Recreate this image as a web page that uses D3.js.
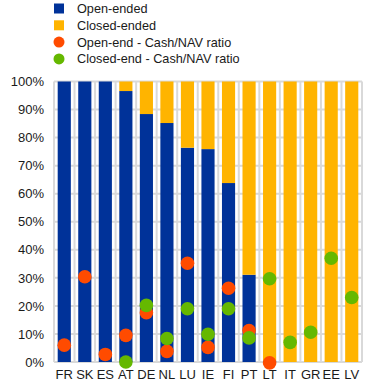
<!DOCTYPE html>
<html><head><meta charset="utf-8">
<script src="https://cdn.jsdelivr.net/npm/d3@7"></script>
<style>body{margin:0;background:#fff}svg{display:block;font-family:"Liberation Sans",Arial,sans-serif}</style>
</head><body><svg id="c" width="372" height="389"></svg>
<script>
const countries = ["FR","SK","ES","AT","DE","NL","LU","IE","FI","PT","LT","IT","GR","EE","LV"];
const openEnded = [100,100,100,96.6,88.4,85.2,76.4,75.9,63.8,31.1,0.5,0,0,0,0];
const closedEnded = openEnded.map(v => 100 - v);
const openCash = [6.0,30.4,2.7,9.5,17.6,3.8,35.2,5.2,26.3,11.2,-0.3,null,null,null,null];
const closedCash = [null,null,null,0.0,20.2,8.4,19.0,9.9,19.0,8.6,29.7,7.0,10.6,37.0,23.0];
const yTicks = [0,10,20,30,40,50,60,70,80,90,100];
const legendLabels = ["Open-ended","Closed-ended","Open-end - Cash/NAV ratio","Closed-end - Cash/NAV ratio"];

const colors = {open:"#003299", closed:"#FFB400", oc:"#FF4B00", cc:"#65B800"};
const svg = d3.select("#c");
const m = {l:54};
const x = d3.scaleBand().domain(countries).range([m.l, 362]).paddingInner(0.36).paddingOuter(0.18);
const xb = d3.scaleBand().domain(countries).range([m.l, 362]);
const y = d3.scaleLinear().domain([0,100]).range([362, 81.5]);

// grid
const g = svg.append("g");
g.selectAll("line.h").data(yTicks).join("line")
  .attr("x1", m.l).attr("x2", 362).attr("y1", d=>y(d)).attr("y2", d=>y(d))
  .attr("stroke","#d9d9d9").attr("stroke-width",2);
const vb = countries.map(c=>xb(c)).concat([362]);
g.selectAll("line.v").data(vb).join("line")
  .attr("x1", d=>d).attr("x2", d=>d).attr("y1", y(0)).attr("y2", y(100))
  .attr("stroke","#d9d9d9").attr("stroke-width",2);

// bars
svg.append("g").selectAll("rect").data(countries).join("rect")
  .attr("x", c=>x(c)).attr("width", x.bandwidth())
  .attr("y", (c,i)=>y(openEnded[i])).attr("height",(c,i)=>y(0)-y(openEnded[i]))
  .attr("fill", colors.open);
svg.append("g").selectAll("rect").data(countries).join("rect")
  .attr("x", c=>x(c)).attr("width", x.bandwidth())
  .attr("y", (c,i)=>y(100)).attr("height",(c,i)=>y(openEnded[i])-y(100))
  .attr("fill", colors.closed);

// axes
const yAxis = d3.axisLeft(y).tickValues(yTicks).tickFormat(d=>d+"%").tickSize(0).tickPadding(10);
const ya = svg.append("g").attr("transform",`translate(${m.l},0)`).call(yAxis);
ya.select(".domain").remove();
ya.selectAll("text").attr("font-size",13).attr("fill","#1a1a1a").attr("font-family","Liberation Sans, Arial, sans-serif");
const xAxis = d3.axisBottom(x).tickSize(0).tickPadding(8);
const xa = svg.append("g").attr("transform",`translate(0,${y(0)})`).call(xAxis);
xa.select(".domain").remove();
xa.selectAll("text").attr("font-size",13).attr("fill","#1a1a1a").attr("font-family","Liberation Sans, Arial, sans-serif");

// dots
const cx = c => x(c) + x.bandwidth()/2;
svg.append("g").selectAll("circle").data(countries.filter((c,i)=>openCash[i]!==null)).join("circle")
  .attr("cx", cx).attr("cy", c=>y(openCash[countries.indexOf(c)])).attr("r",6.8).attr("fill",colors.oc);
svg.append("g").selectAll("circle").data(countries.filter((c,i)=>closedCash[i]!==null)).join("circle")
  .attr("cx", cx).attr("cy", c=>y(closedCash[countries.indexOf(c)])).attr("r",6.8).attr("fill",colors.cc);

// legend
const lg = svg.append("g");
const lc = [colors.open, colors.closed, colors.oc, colors.cc];
legendLabels.forEach((t,i)=>{
  const cy = 8.5 + i*16.8;
  if (i<2) lg.append("rect").attr("x",54).attr("y",cy-5).attr("width",10).attr("height",10).attr("fill",lc[i]);
  else lg.append("circle").attr("cx",59).attr("cy",cy).attr("r",5.5).attr("fill",lc[i]);
  lg.append("text").attr("x",77).attr("y",cy+4.5).attr("font-size",12.7).attr("fill","#1a1a1a").text(t);
});
</script></body></html>
